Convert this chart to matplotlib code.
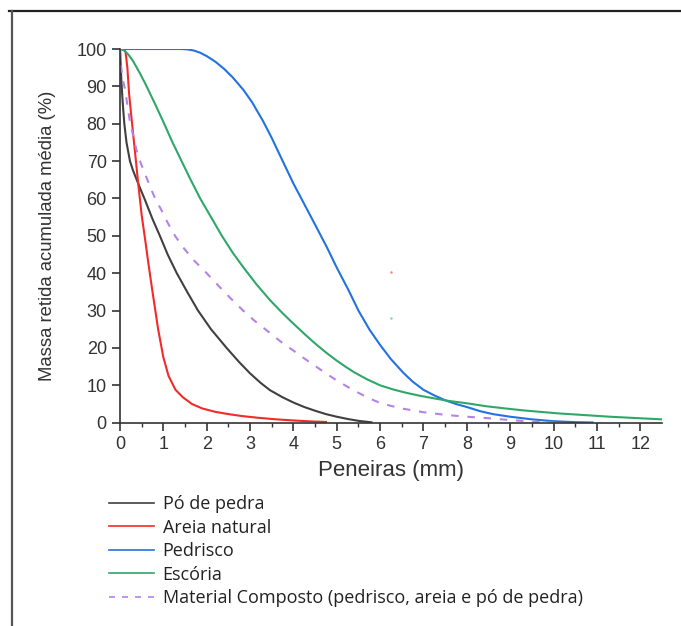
import matplotlib
matplotlib.use("Agg")
import matplotlib.pyplot as plt
from matplotlib.lines import Line2D

# ---- dados ----
po_x = [0, 0.03, 0.06, 0.1, 0.15, 0.23, 0.3, 0.42, 0.58, 0.75, 0.92, 1.1, 1.31, 1.55, 1.8, 2.1,
        2.46, 2.75, 3.0, 3.25, 3.46, 3.75, 4.0, 4.25, 4.5, 4.75, 5.0, 5.25, 5.5, 5.8]
po_y = [100, 92, 86, 80, 75, 70, 67.5, 64, 59.5, 54.5, 50, 45, 40, 35, 30, 25,
        20, 16.2, 13.2, 10.6, 8.7, 6.8, 5.4, 4.2, 3.2, 2.3, 1.6, 1.0, 0.5, 0.1]

areia_x = [0.1, 0.13, 0.17, 0.21, 0.27, 0.35, 0.42, 0.5, 0.58, 0.65, 0.75, 0.88, 1.0, 1.12, 1.28,
           1.45, 1.66, 1.9, 2.2, 2.5, 2.8, 3.2, 3.6, 4.0, 4.4, 4.75]
areia_y = [100, 99, 95, 88, 81, 72, 64, 55.5, 49, 43, 35, 25, 17.5, 12.5, 8.8,
           6.8, 5.0, 3.8, 2.9, 2.3, 1.8, 1.3, 0.9, 0.6, 0.35, 0.2]

pedrisco_x = [0, 1.4, 1.55, 1.7, 1.85, 2.0, 2.2, 2.4, 2.6, 2.85, 3.05, 3.3, 3.5, 3.7, 4.0, 4.25, 4.5,
              4.77, 5.0, 5.27, 5.5, 5.75, 6.0, 6.25, 6.54, 6.75, 7.0, 7.25, 7.5, 7.75, 8.0,
              8.3, 8.6, 9.0, 9.5, 10.0, 10.5, 10.9]
pedrisco_y = [100, 100, 99.9, 99.6, 99.0, 98.1, 96.6, 94.7, 92.4, 89, 85.7, 80.7, 76.2, 71.3, 64, 58.5, 53,
              47, 41.5, 35.5, 30, 25, 20.8, 17, 13.3, 11, 8.8, 7.3, 6, 5, 4.2,
              3.1, 2.3, 1.6, 0.9, 0.4, 0.15, 0.05]

escoria_x = [0, 0.1, 0.2, 0.3, 0.45, 0.58, 0.8, 1.0, 1.2, 1.42, 1.63, 1.85, 2.1, 2.35, 2.6, 2.85,
             3.15, 3.46, 3.75, 4.0, 4.25, 4.5, 4.75, 5.0, 5.2, 5.4, 5.7, 6.0, 6.3, 6.6, 6.92,
             7.25, 7.6, 8.0, 8.45, 8.9, 9.3, 9.7, 10.1, 10.5, 10.9, 11.3, 11.8, 12.5]
escoria_y = [100, 99.6, 98.4, 96.8, 93.7, 90.8, 85.5, 80.5, 75.3, 70, 65, 60, 55, 50, 45.5, 41.5,
             37, 32.8, 29.3, 26.5, 23.8, 21.2, 18.8, 16.6, 15, 13.5, 11.6, 10.0, 8.9, 8.0, 7.2,
             6.5, 5.8, 5.2, 4.4, 3.8, 3.3, 2.9, 2.5, 2.2, 1.9, 1.6, 1.3, 0.9]

comp_x = [0, 0.02, 0.05, 0.08, 0.12, 0.17, 0.23, 0.3, 0.38, 0.46, 0.58, 0.7, 0.81, 0.95, 1.1,
          1.27, 1.45, 1.7, 2.0, 2.3, 2.55, 2.84, 3.1, 3.46, 3.75, 4.0, 4.25, 4.5, 4.75, 5.0,
          5.25, 5.5, 5.75, 6.0, 6.25, 6.5, 7.0, 7.5, 8.0, 8.5, 9.0, 9.5, 10.0]
comp_y = [100, 96, 93, 91, 89, 85, 80.5, 77, 73, 70, 66.5, 63, 60, 57, 53.5,
          50, 47, 43.5, 40, 36.3, 33.3, 30, 27.3, 24, 21.3, 19.3, 17.2, 15.2, 13.2, 11.3,
          9.6, 8.0, 6.5, 5.3, 4.5, 3.8, 2.8, 2.1, 1.6, 1.2, 0.7, 0.3, 0.05]

series = [
    ("Pó de pedra", po_x, po_y, "#404040", "-"),
    ("Areia natural", areia_x, areia_y, "#f22a2a", "-"),
    ("Pedrisco", pedrisco_x, pedrisco_y, "#2272e0", "-"),
    ("Escória", escoria_x, escoria_y, "#2ea868", "-"),
    ("Material Composto (pedrisco, areia e pó de pedra)", comp_x, comp_y, "#b583e6", (0, (3.6, 4.2))),
]

plt.rcParams["font.family"] = ["Liberation Sans", "DejaVu Sans"]

fig = plt.figure(figsize=(6.81, 6.26), dpi=100)
ax = fig.add_axes([120 / 681, 1 - 422.7 / 626, 541.9 / 681, 373.7 / 626])

for name, xs, ys, col, ls in series:
    ax.plot(xs, ys, color=col, lw=1.5, linestyle=ls, label=name)

# pontinhos soltos que aparecem no original
ax.plot([6.24], [40.3], ".", color="#f08080", ms=1.5)
ax.plot([6.24], [28.1], ".", color="#80d0a0", ms=1.5)

ax.set_xlim(0, 12.5)
ax.set_ylim(0, 100)
ax.set_xticks(range(0, 13))
ax.set_xticks([i + 0.5 for i in range(0, 12)], minor=True)
ax.set_yticks(range(0, 101, 10))
for s in ["top", "right"]:
    ax.spines[s].set_visible(False)
for s in ["left", "bottom"]:
    ax.spines[s].set_color("#333333")
    ax.spines[s].set_linewidth(1.2)
ax.tick_params(axis="both", which="major", length=6, width=1.2, color="#333333",
               labelsize=13, labelcolor="#333333")
ax.tick_params(axis="x", which="minor", length=3, width=1.0, color="#333333")
ax.set_xlabel("Peneiras (mm)", fontsize=16, color="#333333", labelpad=5)
ax.set_ylabel("Massa retida acumulada média (%)", fontsize=13.3, color="#333333", labelpad=15)

# legenda embaixo
handles = [Line2D([], [], color=c, lw=1.2, linestyle=l) for _, _, _, c, l in series]
labels = [s[0] for s in series]
fig.legend(handles, labels, loc="upper left", bbox_to_anchor=(93 / 681, 1 - 479 / 626),
           frameon=False, handlelength=2.5, handletextpad=0.45, labelspacing=0.3,
           prop={"family": ["Open Sans", "DejaVu Sans"], "size": 13}, labelcolor="#222222")

# moldura (bordas superior e esquerda)
fig.add_artist(Line2D([9 / 681, 1], [1 - 10.5 / 626, 1 - 10.5 / 626], color="#222222", lw=1.6))
fig.add_artist(Line2D([12 / 681, 12 / 681], [1 - 10.5 / 626, 0], color="#555555", lw=1.6))

fig.savefig("out.png", dpi=100)
